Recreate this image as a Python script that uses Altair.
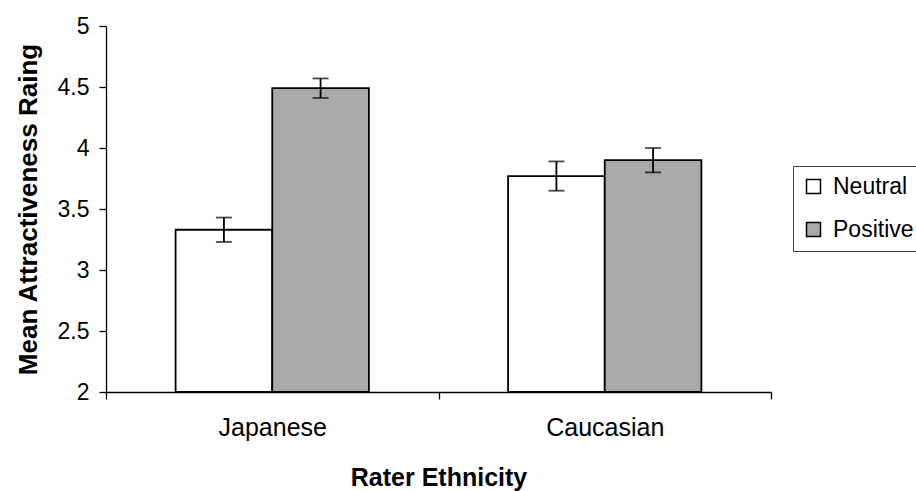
import altair as alt
import pandas as pd

# Mean attractiveness ratings by rater ethnicity and expression condition
raters = ["Japanese", "Caucasian"]
conditions = ["Neutral", "Positive"]
neutral_means = [3.33, 3.77]
positive_means = [4.49, 3.90]
neutral_err = [0.10, 0.12]
positive_err = [0.08, 0.10]
y_ticks = [2, 2.5, 3, 3.5, 4, 4.5, 5]
y_floor = 2

rows = []
for i, rater in enumerate(raters):
    for cond, m, e in (("Neutral", neutral_means[i], neutral_err[i]),
                       ("Positive", positive_means[i], positive_err[i])):
        rows.append({"rater": rater, "condition": cond, "mean": m,
                     "lo": m - e, "hi": m + e})
df = pd.DataFrame(rows)

FONT = "Liberation Sans"

x_enc = alt.X(
    "rater:N", sort=raters, title="Rater Ethnicity",
    scale=alt.Scale(paddingInner=0, paddingOuter=0),
    axis=alt.Axis(labelAngle=0, tickBand="extent", labelFontSize=25,
                  labelPadding=16, tickSize=7, titleFontSize=25,
                  titlePadding=25, titleFontWeight="bold"),
)
x_off = alt.XOffset("condition:N", sort=conditions,
                    scale=alt.Scale(paddingInner=0, paddingOuter=0.72))
y_scale = alt.Scale(domain=[2, 5], nice=False, zero=False)

bars = alt.Chart(df).mark_bar(stroke="black", strokeWidth=1.8).encode(
    x=x_enc,
    xOffset=x_off,
    y=alt.Y("mean:Q", scale=y_scale, title="Mean Attractiveness Raing",
            axis=alt.Axis(values=y_ticks, format="~g", labelFontSize=23,
                          labelPadding=10, tickSize=7, titleFontSize=26,
                          titleFontWeight="bold", titlePadding=16)),
    y2=alt.datum(y_floor),
    color=alt.Color(
        "condition:N", sort=conditions,
        scale=alt.Scale(domain=conditions, range=["#ffffff", "#a9a9a9"]),
        legend=alt.Legend(
            title=None, orient="none", legendX=687, legendY=140,
            strokeColor="#444444", padding=9, symbolType="square",
            symbolSize=196, symbolStrokeColor="black",
            symbolStrokeWidth=1.5, labelFontSize=23, labelOffset=8,
            rowPadding=19, labelFont=FONT,
        ),
    ),
)

stems = alt.Chart(df).mark_rule(color="black", strokeWidth=1.8).encode(
    x=alt.X("rater:N", sort=raters),
    xOffset=x_off,
    y=alt.Y("lo:Q", scale=y_scale),
    y2="hi:Q",
)

caps_lo = alt.Chart(df).mark_tick(color="black", thickness=1.8, size=16).encode(
    x=alt.X("rater:N", sort=raters),
    xOffset=x_off,
    y=alt.Y("lo:Q", scale=y_scale),
)
caps_hi = alt.Chart(df).mark_tick(color="black", thickness=1.8, size=16).encode(
    x=alt.X("rater:N", sort=raters),
    xOffset=x_off,
    y=alt.Y("hi:Q", scale=y_scale),
)

chart = (
    alt.layer(bars, stems, caps_lo, caps_hi)
    .properties(
        width=665, height=366,
        autosize=alt.AutoSizeParams(type="none"),
        padding={"left": 106, "top": 26, "right": 145, "bottom": 99},
        background="white",
    )
    .configure_view(stroke=None)
    .configure_axis(
        grid=False, domainColor="black", tickColor="black",
        domainWidth=1.3, tickWidth=1.3,
        labelColor="black", titleColor="black",
        labelFont=FONT, titleFont=FONT,
    )
    .configure_legend(labelColor="black")
)

chart.save("out.html", embed_options={"renderer": "svg", "actions": False})
